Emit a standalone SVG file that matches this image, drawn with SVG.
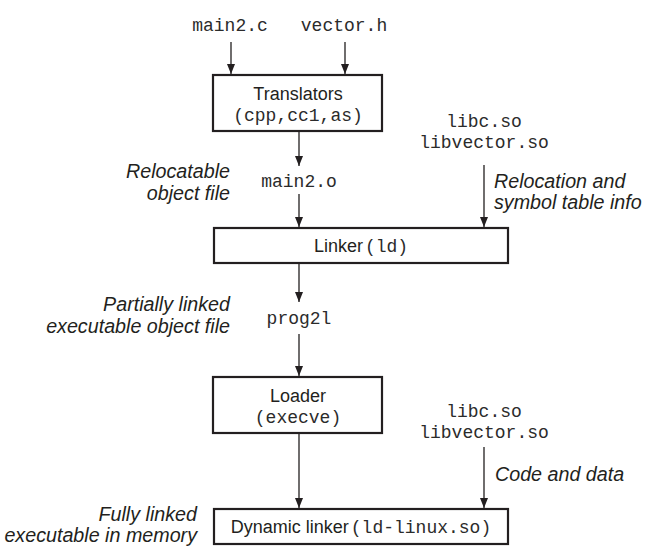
<svg xmlns="http://www.w3.org/2000/svg" width="663" height="549" viewBox="0 0 663 549">
<style>
.box{fill:#fff;stroke:#231f20;stroke-width:2.2}
.sans{font-family:"Liberation Sans",Arial,sans-serif;font-size:18px;fill:#231f20}
.it{font-family:"Liberation Sans",Arial,sans-serif;font-size:19.7px;font-style:italic;fill:#231f20}
.mono{font-family:"Liberation Mono","Courier New",monospace;font-size:18px;fill:#2b2b2b}
.edge{stroke:#231f20;stroke-width:1.3;fill:none;marker-end:url(#ah)}
</style>
<defs>
<marker id="ah" markerUnits="userSpaceOnUse" markerWidth="10" markerHeight="11" refX="10" refY="4" orient="auto">
<path d="M0,0 L10,4 L0,8 z" fill="#231f20"/>
</marker>
</defs>
<rect width="663" height="549" fill="#fff"/>
<g id="connectors">
<line class="edge" x1="231" y1="42" x2="231" y2="74"/>
<line class="edge" x1="345" y1="42" x2="345" y2="74"/>
<line class="edge" x1="299" y1="132" x2="299" y2="166"/>
<line class="edge" x1="299" y1="194" x2="299" y2="227"/>
<line class="edge" x1="484" y1="165" x2="484" y2="227"/>
<line class="edge" x1="299" y1="264" x2="299" y2="302"/>
<line class="edge" x1="299" y1="334" x2="299" y2="376"/>
<line class="edge" x1="299" y1="433" x2="299" y2="508"/>
<line class="edge" x1="484" y1="447" x2="484" y2="508"/>
</g>
<g id="main2c"><text class="mono" x="230" y="31" text-anchor="middle">main2.c</text></g>
<g id="vectorh"><text class="mono" x="344" y="31" text-anchor="middle">vector.h</text></g>
<g id="translators">
<rect class="box" x="213" y="75" width="169" height="56"/>
<text class="sans" x="298" y="100" text-anchor="middle">Translators</text>
<text class="mono" x="298" y="121" text-anchor="middle">(cpp,cc1,as)</text>
</g>
<g id="libs1">
<text class="mono" x="484" y="127" text-anchor="middle">libc.so</text>
<text class="mono" x="484" y="148" text-anchor="middle">libvector.so</text>
</g>
<g id="main2o">
<text class="it" x="230" y="178" text-anchor="end">Relocatable</text>
<text class="it" x="230" y="200" text-anchor="end">object file</text>
<text class="mono" x="299" y="187" text-anchor="middle">main2.o</text>
</g>
<g id="relinfo">
<text class="it" x="494" y="188">Relocation and</text>
<text class="it" x="494" y="209">symbol table info</text>
</g>
<g id="linker">
<rect class="box" x="214" y="228" width="294" height="35"/>
<text class="sans" x="361" y="252" text-anchor="middle">Linker <tspan class="mono" dx="-3">(ld)</tspan></text>
</g>
<g id="prog2l">
<text class="it" x="230" y="311" text-anchor="end">Partially linked</text>
<text class="it" x="230" y="333" text-anchor="end">executable object file</text>
<text class="mono" x="299" y="324" text-anchor="middle">prog2l</text>
</g>
<g id="loader">
<rect class="box" x="213" y="377" width="169" height="56"/>
<text class="sans" x="298" y="402" text-anchor="middle">Loader</text>
<text class="mono" x="298" y="423" text-anchor="middle">(execve)</text>
</g>
<g id="libs2">
<text class="mono" x="484" y="417" text-anchor="middle">libc.so</text>
<text class="mono" x="484" y="438" text-anchor="middle">libvector.so</text>
<text class="it" x="495" y="481">Code and data</text>
</g>
<g id="dynlinker">
<rect class="box" x="214" y="509" width="294" height="35"/>
<text class="sans" x="361" y="533" text-anchor="middle">Dynamic linker <tspan class="mono" dx="-3">(ld-linux.so)</tspan></text>
<text class="it" x="197" y="521" text-anchor="end">Fully linked</text>
<text class="it" x="197" y="542" text-anchor="end">executable in memory</text>
</g>
</svg>
